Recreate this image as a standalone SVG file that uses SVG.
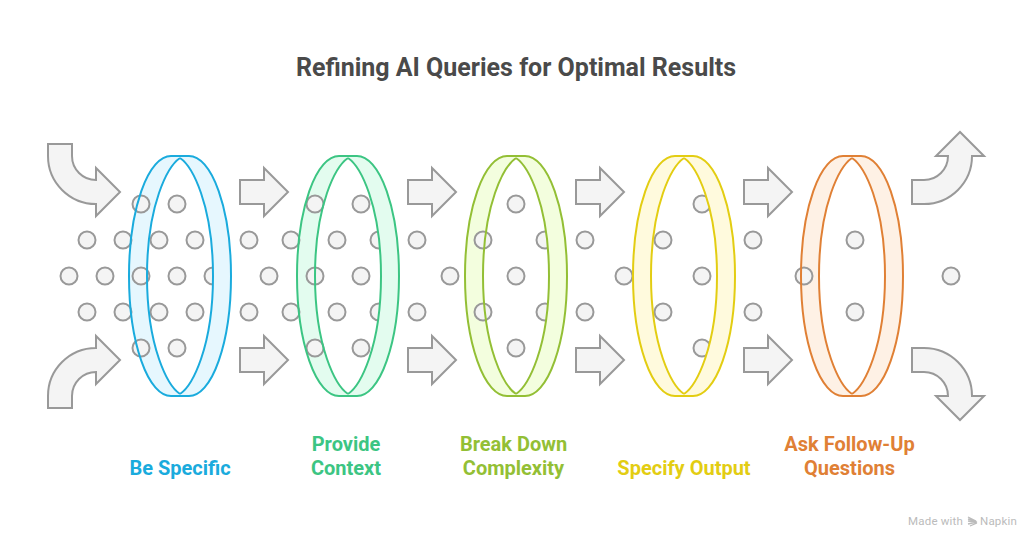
<svg xmlns="http://www.w3.org/2000/svg" xmlns:xlink="http://www.w3.org/1999/xlink" width="1032" height="540" viewBox="0 0 1032 540">
<style>
text{font-family:Roboto,"Liberation Sans",sans-serif;font-weight:700;text-anchor:middle}
.title{font-size:25px;fill:#4A4A4A}
.lab{font-size:20px}
.a,.d{fill:#f4f4f4;stroke:#999999;stroke-width:2}
.n{fill:none;stroke-width:2}
.f{stroke:none}
.c1{fill:#1AABDD}.c2{fill:#3CC583}.c3{fill:#93BF35}.c4{fill:#E3CD12}.c5{fill:#E08035}
.s1{stroke:#1AABDD}.s2{stroke:#3CC583}.s3{stroke:#93BF35}.s4{stroke:#E3CD12}.s5{stroke:#E08035}
.b1{fill:#E6F7FE}.b2{fill:#E3FCEF}.b3{fill:#F3FEDE}.b4{fill:#FFFADD}.b5{fill:#FEF1E5}
.wm{font-family:Roboto,"Liberation Sans",sans-serif;font-weight:400;font-size:11.5px;fill:#BBBBBB;text-anchor:start;letter-spacing:.2px}
</style>
<defs>
<path id="lb" class="f" d="M0,-118 L-5,-120 H-9 A42,120 0 0 0 -9,120 H-5 L0,118 C-12,110 -33,72 -33,0 C-33,-72 -12,-110 0,-118 Z"/>
<path id="ls" d="M0,-120 H-9 A42,120 0 0 0 -9,120 H0 M0,-118 C-12,-110 -33,-72 -33,0 C-33,72 -12,110 0,118"/>
<path id="rb" d="M0,-118 L5,-120 H9 A42,120 0 0 1 9,120 H5 L0,118 C12,110 33,72 33,0 C33,-72 12,-110 0,-118 Z"/>
<path id="rs" class="n" d="M0,-120 H9 A42,120 0 0 1 9,120 H0 M0,-118 C12,-110 33,-72 33,0 C33,72 12,110 0,118"/>
<path id="ar" d="M0,-12 H24 V-24 L48,0 L24,24 V12 H0 Z"/>
</defs>
<text class="title" x="516" y="75.500">Refining AI Queries for Optimal Results</text>
<g id="connectors">
<path class="a" d="M48,144 H72 V156 A24,24 0 0 0 96,180 V168 L120,192 L96,216 V204 A48,48 0 0 1 48,156 Z"/>
<path class="a" d="M48,408 H72 V396 A24,24 0 0 1 96,372 V384 L120,360 L96,336 V348 A48,48 0 0 0 48,396 Z"/>
<use class="a" xlink:href="#ar" href="#ar" x="240" y="192"/>
<use class="a" xlink:href="#ar" href="#ar" x="240" y="360"/>
<use class="a" xlink:href="#ar" href="#ar" x="408" y="192"/>
<use class="a" xlink:href="#ar" href="#ar" x="408" y="360"/>
<use class="a" xlink:href="#ar" href="#ar" x="576" y="192"/>
<use class="a" xlink:href="#ar" href="#ar" x="576" y="360"/>
<use class="a" xlink:href="#ar" href="#ar" x="744" y="192"/>
<use class="a" xlink:href="#ar" href="#ar" x="744" y="360"/>
<path class="a" d="M912,180 H924 A24,24 0 0 0 948,156 H936 L960,132 L984,156 H972 A48,48 0 0 1 924,204 H912 Z"/>
<path class="a" d="M912,372 H924 A24,24 0 0 1 948,396 H936 L960,420 L984,396 H972 A48,48 0 0 0 924,348 H912 Z"/>
</g>
<g id="ring-backs">
<use class="b1" xlink:href="#lb" href="#lb" x="180" y="276"/>
<use class="b2" xlink:href="#lb" href="#lb" x="348" y="276"/>
<use class="b3" xlink:href="#lb" href="#lb" x="516" y="276"/>
<use class="b4" xlink:href="#lb" href="#lb" x="684" y="276"/>
<use class="b5" xlink:href="#lb" href="#lb" x="852" y="276"/>
</g>
<g id="dots" class="d">
<circle cx="141" cy="204" r="8.5"/><circle cx="177" cy="204" r="8.5"/>
<circle cx="87" cy="240" r="8.5"/><circle cx="123" cy="240" r="8.5"/><circle cx="159" cy="240" r="8.5"/><circle cx="195" cy="240" r="8.5"/>
<circle cx="69" cy="276" r="8.5"/><circle cx="105" cy="276" r="8.5"/><circle cx="141" cy="276" r="8.5"/><circle cx="177" cy="276" r="8.5"/><circle cx="213" cy="276" r="8.5"/>
<circle cx="87" cy="312" r="8.5"/><circle cx="123" cy="312" r="8.5"/><circle cx="159" cy="312" r="8.5"/><circle cx="195" cy="312" r="8.5"/>
<circle cx="141" cy="348" r="8.5"/><circle cx="177" cy="348" r="8.5"/>
<circle cx="249" cy="240" r="8.5"/><circle cx="291" cy="240" r="8.5"/><circle cx="269" cy="276" r="8.5"/><circle cx="249" cy="312" r="8.5"/><circle cx="291" cy="312" r="8.5"/>
<circle cx="315" cy="204" r="8.5"/><circle cx="361" cy="204" r="8.5"/>
<circle cx="337" cy="240" r="8.5"/><circle cx="379" cy="240" r="8.5"/><circle cx="417" cy="240" r="8.5"/>
<circle cx="315" cy="276" r="8.5"/><circle cx="361" cy="276" r="8.5"/><circle cx="450" cy="276" r="8.5"/>
<circle cx="337" cy="312" r="8.5"/><circle cx="379" cy="312" r="8.5"/><circle cx="417" cy="312" r="8.5"/>
<circle cx="315" cy="348" r="8.5"/><circle cx="361" cy="348" r="8.5"/>
<circle cx="516" cy="204" r="8.5"/>
<circle cx="483" cy="240" r="8.5"/><circle cx="545" cy="240" r="8.5"/><circle cx="585" cy="240" r="8.5"/>
<circle cx="516" cy="276" r="8.5"/><circle cx="624" cy="276" r="8.5"/>
<circle cx="483" cy="312" r="8.5"/><circle cx="545" cy="312" r="8.5"/><circle cx="585" cy="312" r="8.5"/>
<circle cx="516" cy="348" r="8.5"/>
<circle cx="702" cy="204" r="8.5"/>
<circle cx="663" cy="240" r="8.5"/><circle cx="753" cy="240" r="8.5"/>
<circle cx="702" cy="276" r="8.5"/>
<circle cx="663" cy="312" r="8.5"/><circle cx="753" cy="312" r="8.5"/>
<circle cx="702" cy="348" r="8.5"/>
<circle cx="855" cy="240" r="8.5"/>
<circle cx="804" cy="276" r="8.5"/><circle cx="951" cy="276" r="8.5"/>
<circle cx="855" cy="312" r="8.5"/>
</g>
<g id="be-specific">
<use class="n s1" xlink:href="#ls" href="#ls" x="180" y="276"/>
<use class="b1 f" xlink:href="#rb" href="#rb" x="180" y="276"/>
<use class="s1" xlink:href="#rs" href="#rs" x="180" y="276"/>
<text class="lab c1" x="180" y="475">Be Specific</text>
</g>
<g id="provide-context">
<use class="n s2" xlink:href="#ls" href="#ls" x="348" y="276"/>
<use class="b2 f" xlink:href="#rb" href="#rb" x="348" y="276"/>
<use class="s2" xlink:href="#rs" href="#rs" x="348" y="276"/>
<text class="lab c2" x="346" y="451">Provide</text>
<text class="lab c2" x="346" y="475">Context</text>
</g>
<g id="break-down-complexity">
<use class="n s3" xlink:href="#ls" href="#ls" x="516" y="276"/>
<use class="b3 f" xlink:href="#rb" href="#rb" x="516" y="276"/>
<use class="s3" xlink:href="#rs" href="#rs" x="516" y="276"/>
<text class="lab c3" x="513.500" y="451">Break Down</text>
<text class="lab c3" x="513.500" y="475">Complexity</text>
</g>
<g id="specify-output">
<use class="n s4" xlink:href="#ls" href="#ls" x="684" y="276"/>
<use class="b4 f" xlink:href="#rb" href="#rb" x="684" y="276"/>
<use class="s4" xlink:href="#rs" href="#rs" x="684" y="276"/>
<text class="lab c4" x="684" y="475">Specify Output</text>
</g>
<g id="ask-follow-up-questions">
<use class="n s5" xlink:href="#ls" href="#ls" x="852" y="276"/>
<use class="b5 f" xlink:href="#rb" href="#rb" x="852" y="276"/>
<use class="s5" xlink:href="#rs" href="#rs" x="852" y="276"/>
<text class="lab c5" x="849.500" y="451">Ask Follow-Up</text>
<text class="lab c5" x="849.500" y="475">Questions</text>
</g>
<g id="attribution">
<text class="wm" x="908" y="525">Made with</text>
<path d="M968,517 L976,521 L968,519 M968,521 L977,522 L968,524 M970,526 L977,523" fill="none" stroke="#BBBBBB" stroke-width="1.300"/>
<text class="wm" x="980" y="525">Napkin</text>
</g>
</svg>
